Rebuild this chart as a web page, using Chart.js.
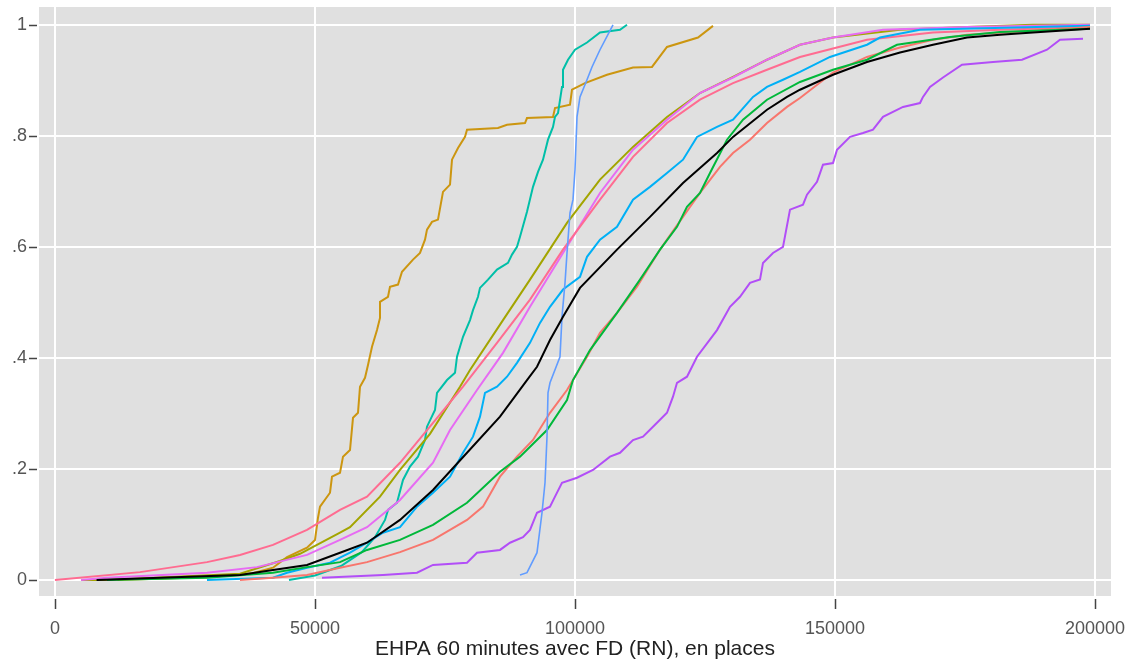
<!DOCTYPE html>
<html>
<head>
<meta charset="utf-8">
<script src="https://cdn.jsdelivr.net/npm/chart.js@4/dist/chart.umd.min.js"></script>
<style>
  html, body { margin: 0; padding: 0; background: #fff; }
  #cdf { display: block; }
</style>
</head>
<body>
<canvas id="cdf" width="1138" height="663"></canvas>
<script>
// cumulative distributions, one pair of arrays (places, share) per group
const blackX = [8000, 20192, 35577, 41923, 48462, 54808, 60000, 66346, 72692, 79231, 85577, 90769, 92692, 95192, 97692, 100962, 108077, 114423, 120769, 127308, 130385, 136923, 140769, 143269, 149615, 156154, 162500, 168846, 175385, 181731, 188077, 199038];
const blackY = [0, 0.004, 0.009, 0.018, 0.027, 0.049, 0.067, 0.108, 0.162, 0.229, 0.294, 0.360, 0.384, 0.432, 0.474, 0.526, 0.595, 0.654, 0.715, 0.769, 0.798, 0.847, 0.870, 0.883, 0.910, 0.933, 0.950, 0.964, 0.977, 0.982, 0.986, 0.993];

const goldX = [12000, 30000, 38000, 41923, 44615, 48462, 50000, 50577, 50962, 52885, 53269, 54808, 55385, 56731, 57308, 58269, 58654, 59615, 60192, 60962, 61923, 62500, 62500, 64038, 64423, 65962, 66731, 68846, 70192, 71154, 71538, 72500, 73654, 74615, 75962, 76346, 77500, 78846, 79231, 85192, 86923, 90385, 90769, 95769, 96154, 99038, 99423, 101923, 106154, 111154, 114808, 117692, 123654, 126538];
const goldY = [0, 0.005, 0.012, 0.022, 0.041, 0.058, 0.072, 0.112, 0.132, 0.157, 0.186, 0.193, 0.222, 0.234, 0.292, 0.301, 0.348, 0.364, 0.387, 0.420, 0.450, 0.472, 0.501, 0.510, 0.528, 0.532, 0.555, 0.577, 0.589, 0.613, 0.631, 0.645, 0.649, 0.699, 0.712, 0.757, 0.778, 0.798, 0.811, 0.814, 0.820, 0.823, 0.832, 0.834, 0.850, 0.856, 0.883, 0.895, 0.910, 0.923, 0.924, 0.960, 0.977, 0.998];

const tealX = [45000, 50000, 55000, 59000, 61538, 63462, 64038, 65769, 66923, 68269, 69808, 71154, 71538, 73077, 73462, 75385, 76923, 77308, 78462, 79808, 80385, 81346, 81731, 83269, 85000, 87115, 87885, 88846, 89423, 90769, 91923, 92885, 93846, 94808, 95769, 96154, 96731, 97500, 97692, 98654, 100000, 102308, 104808, 108654, 110000];
const tealY = [0, 0.008, 0.025, 0.05, 0.077, 0.108, 0.126, 0.139, 0.180, 0.204, 0.222, 0.252, 0.276, 0.306, 0.337, 0.360, 0.373, 0.402, 0.438, 0.468, 0.486, 0.510, 0.526, 0.541, 0.559, 0.571, 0.586, 0.600, 0.618, 0.663, 0.708, 0.735, 0.757, 0.793, 0.816, 0.834, 0.841, 0.888, 0.919, 0.937, 0.955, 0.968, 0.986, 0.991, 1.0];

const blueX = [89423, 90769, 92692, 93654, 94231, 94615, 94808, 95192, 97115, 97500, 98077, 98462, 99038, 99615, 100000, 100385, 100962, 102308, 103269, 104808, 107308];
const blueY = [0.009, 0.013, 0.049, 0.121, 0.175, 0.258, 0.337, 0.355, 0.402, 0.474, 0.535, 0.589, 0.661, 0.685, 0.739, 0.834, 0.870, 0.901, 0.924, 0.955, 1.0];

const oliveX = [5000, 10000, 35577, 43269, 47115, 54808, 56731, 62500, 66346, 72115, 77885, 79808, 86154, 91346, 98462, 104808, 111154, 117692, 124038, 130385, 136923, 143269, 149615, 162500, 175385, 188077, 199038];
const oliveY = [0, 0, 0.011, 0.034, 0.047, 0.085, 0.095, 0.150, 0.198, 0.263, 0.348, 0.378, 0.468, 0.541, 0.643, 0.721, 0.780, 0.834, 0.877, 0.906, 0.937, 0.964, 0.977, 0.991, 0.996, 1.0, 1.0];

const pinkX = [0, 16346, 29231, 35577, 41923, 48462, 54808, 60000, 66346, 72692, 78462, 85000, 91346, 97692, 104808, 111154, 117692, 124038, 130385, 136923, 143269, 156154, 168846, 181731, 199038];
const pinkY = [0, 0.014, 0.032, 0.045, 0.063, 0.090, 0.126, 0.150, 0.211, 0.283, 0.348, 0.427, 0.505, 0.595, 0.685, 0.762, 0.823, 0.865, 0.895, 0.919, 0.942, 0.973, 0.986, 0.991, 0.996];

const violetX = [5000, 10000, 29231, 38846, 48462, 54808, 60000, 66346, 72692, 75962, 81154, 86154, 91346, 97692, 104808, 111154, 117692, 124038, 130385, 136923, 143269, 149615, 159231, 175385, 199038];
const violetY = [0, 0.004, 0.013, 0.023, 0.045, 0.072, 0.095, 0.144, 0.211, 0.270, 0.342, 0.409, 0.492, 0.589, 0.697, 0.775, 0.829, 0.877, 0.905, 0.937, 0.964, 0.977, 0.991, 0.996, 1.0];

const skyX = [29231, 41923, 44615, 48462, 52885, 54808, 56731, 60000, 63077, 66346, 69615, 72692, 75962, 78462, 80385, 81731, 82692, 85000, 86923, 88846, 91346, 93269, 95192, 97692, 100962, 102308, 104808, 108077, 111154, 114423, 117692, 120769, 123462, 127308, 130385, 134231, 136923, 140000, 143269, 149038, 156154, 158654, 166346, 199038];
const skyY = [0, 0.004, 0.013, 0.022, 0.031, 0.040, 0.049, 0.067, 0.085, 0.095, 0.132, 0.157, 0.186, 0.229, 0.258, 0.294, 0.337, 0.348, 0.366, 0.391, 0.427, 0.463, 0.492, 0.523, 0.546, 0.582, 0.613, 0.636, 0.685, 0.708, 0.733, 0.757, 0.798, 0.816, 0.829, 0.870, 0.888, 0.901, 0.915, 0.942, 0.964, 0.977, 0.991, 0.998];

const greenX = [10000, 29231, 41923, 48462, 54808, 60000, 66346, 72692, 79231, 85577, 89423, 94615, 98462, 99615, 102885, 108077, 112500, 116346, 119615, 121538, 124038, 125962, 129231, 132308, 136923, 143269, 149615, 156154, 161923, 172115, 181731, 199038];
const greenY = [0, 0.004, 0.013, 0.023, 0.032, 0.054, 0.072, 0.099, 0.139, 0.195, 0.222, 0.270, 0.324, 0.360, 0.414, 0.481, 0.541, 0.595, 0.636, 0.672, 0.697, 0.733, 0.793, 0.829, 0.865, 0.897, 0.919, 0.937, 0.964, 0.978, 0.987, 0.993];

const salmonX = [35577, 41923, 48462, 54808, 60000, 66346, 72692, 79231, 82308, 85577, 88846, 91923, 95192, 98462, 102308, 104808, 108077, 111923, 116346, 122115, 124038, 127885, 130385, 133654, 136923, 140769, 143269, 149615, 156154, 162500, 168846, 175385, 199038];
const salmonY = [0, 0.004, 0.009, 0.022, 0.032, 0.050, 0.072, 0.108, 0.132, 0.186, 0.222, 0.252, 0.301, 0.342, 0.402, 0.445, 0.481, 0.528, 0.595, 0.672, 0.697, 0.744, 0.769, 0.793, 0.823, 0.852, 0.868, 0.914, 0.942, 0.959, 0.973, 0.982, 0.996];

const purpleX = [51346, 63077, 69615, 72692, 79231, 81154, 85577, 87500, 90000, 91346, 92692, 95192, 96154, 97500, 100385, 103462, 106731, 108654, 111154, 113077, 115769, 117692, 118846, 119615, 121538, 123462, 127308, 129808, 131731, 133654, 135577, 136154, 138077, 140000, 141346, 143846, 144615, 146538, 147692, 149615, 150385, 152885, 155385, 157308, 159231, 163077, 166346, 166923, 168269, 170769, 174423, 180385, 185962, 190769, 193269, 197692];
const purpleY = [0.004, 0.009, 0.013, 0.027, 0.031, 0.049, 0.054, 0.067, 0.077, 0.090, 0.121, 0.132, 0.150, 0.175, 0.184, 0.198, 0.222, 0.229, 0.252, 0.258, 0.283, 0.301, 0.330, 0.355, 0.366, 0.402, 0.450, 0.492, 0.510, 0.535, 0.541, 0.571, 0.589, 0.600, 0.667, 0.676, 0.694, 0.717, 0.748, 0.751, 0.775, 0.798, 0.805, 0.811, 0.834, 0.852, 0.859, 0.870, 0.888, 0.905, 0.928, 0.933, 0.937, 0.955, 0.973, 0.975];

const xTicks = [0, 50000, 100000, 150000, 200000];
const yTicks = [0, 0.2, 0.4, 0.6, 0.8, 1];
const yTickLabels = ["0", ".2", ".4", ".6", ".8", "1"];
const xTitle = "EHPA 60 minutes avec FD (RN), en places";

function pts(xs, ys) {
  return xs.map((x, i) => ({ x: x, y: ys[i] }));
}

function serie(xs, ys, color, width) {
  return {
    data: pts(xs, ys),
    borderColor: color,
    borderWidth: width || 2,
    pointRadius: 0,
    tension: 0,
    fill: false
  };
}

// scales must not push the plot area inward for their end labels
function noEdgePadding(s) {
  s.paddingTop = 0;
  s.paddingBottom = 0;
  s.paddingLeft = 0;
  s.paddingRight = 0;
}

// grey panel behind the plot
const panelBg = {
  id: "panelBg",
  beforeDraw(chart) {
    const { ctx, chartArea: a } = chart;
    ctx.save();
    ctx.fillStyle = "#e0e0e0";
    ctx.fillRect(a.left, a.top, a.right - a.left, a.bottom - a.top);
    ctx.restore();
  }
};

// small tick marks outside the panel, with a gap
const outerTicks = {
  id: "outerTicks",
  afterDraw(chart) {
    const { ctx, chartArea: a, scales } = chart;
    ctx.save();
    ctx.strokeStyle = "#444";
    ctx.lineWidth = 1.5;
    ctx.beginPath();
    xTicks.forEach(v => {
      const px = Math.round(scales.x.getPixelForValue(v)) + 0.5;
      ctx.moveTo(px, a.bottom + 3);
      ctx.lineTo(px, a.bottom + 13);
    });
    yTicks.forEach(v => {
      const py = Math.round(scales.y.getPixelForValue(v)) + 0.5;
      ctx.moveTo(a.left - 10, py);
      ctx.lineTo(a.left - 2, py);
    });
    ctx.stroke();
    ctx.restore();
  }
};

new Chart(document.getElementById("cdf"), {
  type: "line",
  data: {
    datasets: [
      serie(blackX, blackY, "#000000"),
      serie(blueX, blueY, "#619CFF", 1.6),
      serie(purpleX, purpleY, "#B24EF7"),
      serie(greenX, greenY, "#00B83A"),
      serie(salmonX, salmonY, "#F8766D"),
      serie(skyX, skyY, "#00B0F6"),
      serie(pinkX, pinkY, "#FF6C91"),
      serie(violetX, violetY, "#E76BF3"),
      serie(oliveX, oliveY, "#A3A500"),
      serie(tealX, tealY, "#00BFA8"),
      serie(goldX, goldY, "#CC9610")
    ]
  },
  options: {
    responsive: false,
    animation: false,
    layout: { autoPadding: false, padding: { top: 7, right: 27, left: 0, bottom: 0 } },
    plugins: {
      legend: { display: false },
      tooltip: { enabled: false }
    },
    scales: {
      x: {
        type: "linear",
        min: -3077,
        max: 203077,
        afterBuildTicks: s => { s.ticks = xTicks.map(v => ({ value: v })); },
        afterFit: s => { s.height = 67; noEdgePadding(s); },
        border: { display: false },
        grid: { color: "#ffffff", lineWidth: 2, drawTicks: false },
        ticks: {
          color: "#555555",
          font: { family: "Liberation Sans, Arial, sans-serif", size: 18 },
          padding: 22,
          maxRotation: 0,
          callback: v => String(v)
        },
        title: {
          display: true,
          text: xTitle,
          color: "#222222",
          font: { family: "Liberation Sans, Arial, sans-serif", size: 21 },
          padding: { top: 0, bottom: 1 }
        }
      },
      y: {
        type: "linear",
        min: -0.029,
        max: 1.032,
        afterBuildTicks: s => { s.ticks = yTicks.map(v => ({ value: v })); },
        afterFit: s => { s.width = 39; noEdgePadding(s); },
        border: { display: false },
        grid: { color: "#ffffff", lineWidth: 2, drawTicks: false },
        ticks: {
          color: "#555555",
          font: { family: "Liberation Sans, Arial, sans-serif", size: 18 },
          padding: 12,
          callback: v => yTickLabels[yTicks.indexOf(v)]
        }
      }
    }
  },
  plugins: [panelBg, outerTicks]
});
</script>
</body>
</html>
